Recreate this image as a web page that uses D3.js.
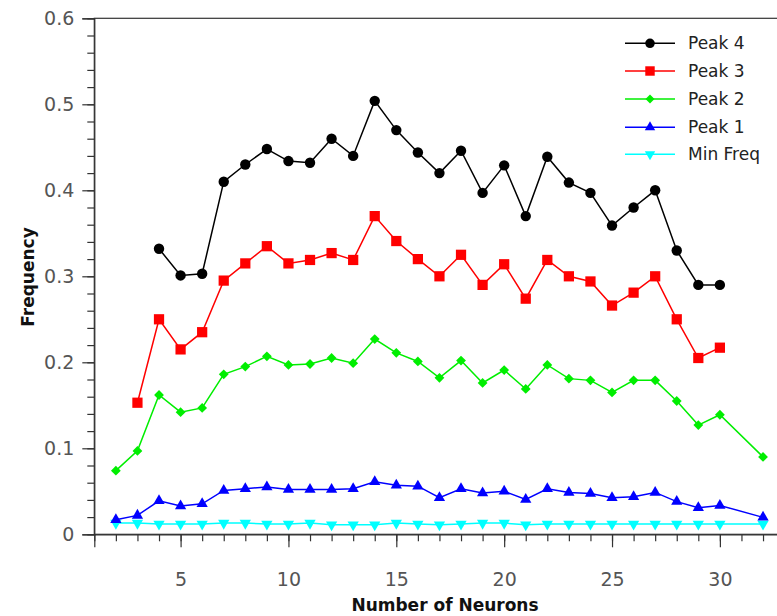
<!DOCTYPE html>
<html><head><meta charset="utf-8">
<script src="https://cdn.jsdelivr.net/npm/d3@7"></script>
<style>body{margin:0;background:#fff}svg{display:block}</style>
</head><body>
<script>
const xTicks = [5, 10, 15, 20, 25, 30];
const yTicks = [0, 0.1, 0.2, 0.3, 0.4, 0.5, 0.6];
const yTickLabels = ["0", "0.1", "0.2", "0.3", "0.4", "0.5", "0.6"];

const xPeak4 = [4,5,6,7,8,9,10,11,12,13,14,15,16,17,18,19,20,21,22,23,24,25,26,27,28,29,30];
const peak4 = [0.332,0.301,0.303,0.41,0.43,0.448,0.434,0.432,0.46,0.44,0.504,0.47,0.444,0.42,0.446,0.397,0.429,0.37,0.439,0.409,0.397,0.359,0.38,0.40,0.33,0.29,0.29];

const xPeak3 = [3,4,5,6,7,8,9,10,11,12,13,14,15,16,17,18,19,20,21,22,23,24,25,26,27,28,29,30];
const peak3 = [0.153,0.25,0.215,0.235,0.295,0.315,0.335,0.315,0.319,0.327,0.319,0.37,0.341,0.32,0.30,0.325,0.29,0.314,0.274,0.319,0.30,0.294,0.266,0.281,0.30,0.25,0.205,0.217];

const xLow = [2,3,4,5,6,7,8,9,10,11,12,13,14,15,16,17,18,19,20,21,22,23,24,25,26,27,28,29,30,32];
const peak2 = [0.074,0.097,0.162,0.142,0.147,0.186,0.195,0.207,0.197,0.198,0.205,0.199,0.227,0.211,0.201,0.182,0.202,0.176,0.191,0.169,0.197,0.181,0.179,0.165,0.179,0.179,0.155,0.127,0.139,0.09];
const peak1 = [0.017,0.022,0.039,0.033,0.0355,0.051,0.053,0.055,0.052,0.052,0.052,0.053,0.061,0.057,0.056,0.0425,0.053,0.048,0.050,0.0405,0.053,0.0487,0.0475,0.0425,0.0436,0.0487,0.038,0.031,0.0336,0.0197];
const minFreq = [0.013,0.013,0.012,0.012,0.012,0.013,0.013,0.012,0.012,0.013,0.011,0.011,0.011,0.013,0.012,0.011,0.012,0.013,0.013,0.011,0.012,0.012,0.012,0.012,0.012,0.012,0.012,0.012,0.012,0.012];

const seriesNames = ["Peak 4", "Peak 3", "Peak 2", "Peak 1", "Min Freq"];
const seriesColors = ["#000000", "#ff0000", "#00ee00", "#0000ff", "#00ffff"];

const W = 777, H = 616;
const margin = {left: 94.3, top: 18.3};
const plotW = 690.3, plotH = 516;

const svg = d3.select("body").append("svg").attr("width", W).attr("height", H);
const x = d3.scaleLinear().domain([1, 33]).range([margin.left, margin.left + plotW]);
const y = d3.scaleLinear().domain([0, 0.6]).range([margin.top + plotH, margin.top]);

const axisColor = "#333";
const font = "'DejaVu Sans', Verdana, sans-serif";

// frame (top and right)
svg.append("rect").attr("x", margin.left).attr("y", margin.top)
  .attr("width", plotW).attr("height", plotH)
  .attr("fill", "none").attr("stroke", axisColor).attr("stroke-width", 1.2);

// Y axis minor
const yMinor = d3.range(0, 0.6001, 0.02);
svg.append("g").attr("transform", `translate(${margin.left},0)`)
  .call(d3.axisLeft(y).tickValues(yMinor).tickSize(7).tickFormat(""))
  .call(g => { g.select(".domain").remove(); g.selectAll("line").attr("stroke", axisColor).attr("stroke-width", 1.2); });
// Y axis major
svg.append("g").attr("transform", `translate(${margin.left},0)`)
  .call(d3.axisLeft(y).tickValues(yTicks).tickSize(12).tickPadding(8).tickFormat((d, i) => yTickLabels[i]))
  .call(g => {
    g.select(".domain").attr("stroke", axisColor).attr("stroke-width", 1.2);
    g.selectAll("line").attr("stroke", axisColor).attr("stroke-width", 1.2);
    g.selectAll("text").attr("font-family", font).attr("font-size", 19).attr("fill", "#555");
  });

// X axis minor
const xMinor = d3.range(1, 33, 1);
svg.append("g").attr("transform", `translate(0,${margin.top + plotH})`)
  .call(d3.axisBottom(x).tickValues(xMinor).tickSize(7).tickFormat(""))
  .call(g => { g.select(".domain").remove(); g.selectAll("line").attr("stroke", axisColor).attr("stroke-width", 1.2); });
// X axis major
svg.append("g").attr("transform", `translate(0,${margin.top + plotH})`)
  .call(d3.axisBottom(x).tickValues(xTicks).tickSize(13).tickPadding(25).tickFormat(d3.format("d")))
  .call(g => {
    g.select(".domain").attr("stroke", axisColor).attr("stroke-width", 1.2);
    g.selectAll("line").attr("stroke", axisColor).attr("stroke-width", 1.2);
    g.selectAll("text").attr("font-family", font).attr("font-size", 19).attr("fill", "#555");
  });

// axis titles
svg.append("text").attr("x", 445).attr("y", 611).attr("text-anchor", "middle")
  .attr("font-family", font).attr("font-weight", "bold").attr("font-size", 17).attr("fill", "#111")
  .text("Number of Neurons");
svg.append("text").attr("transform", "translate(34,277) rotate(-90)").attr("text-anchor", "middle")
  .attr("font-family", font).attr("font-weight", "bold").attr("font-size", 17).attr("fill", "#111")
  .text("Frequency");

// marker generators
function marker(kind, scale) {
  const s = scale || 1;
  switch (kind) {
    case 0: return {path: d3.symbol().type(d3.symbolCircle).size(85 * s)(), rot: 0};
    case 1: return {path: d3.symbol().type(d3.symbolSquare).size(105 * s)(), rot: 0};
    case 2: return {path: d3.symbol().type(d3.symbolSquare).size(48 * s)(), rot: 45};
    case 3: return {path: d3.symbol().type(d3.symbolTriangle).size(55 * s)(), rot: 0};
    case 4: return {path: d3.symbol().type(d3.symbolTriangle).size(55 * s)(), rot: 180};
  }
}

const seriesData = [
  xPeak4.map((d, i) => [d, peak4[i]]),
  xPeak3.map((d, i) => [d, peak3[i]]),
  xLow.map((d, i) => [d, peak2[i]]),
  xLow.map((d, i) => [d, peak1[i]]),
  xLow.map((d, i) => [d, minFreq[i]])
];

const line = d3.line().x(d => x(d[0])).y(d => y(d[1]));

// draw from bottom (Min Freq) to top (Peak 4)
for (let k = seriesData.length - 1; k >= 0; k--) {
  const g = svg.append("g");
  g.append("path").datum(seriesData[k]).attr("d", line)
    .attr("fill", "none").attr("stroke", seriesColors[k]).attr("stroke-width", 1.5);
  const m = marker(k);
  g.selectAll("path.m").data(seriesData[k]).join("path").attr("class", "m")
    .attr("d", m.path)
    .attr("transform", d => `translate(${x(d[0])},${y(d[1])}) rotate(${m.rot})`)
    .attr("fill", seriesColors[k]);
}

// legend
const leg = svg.append("g");
const legY = [43.3, 71, 99, 127.3, 154.3];
seriesNames.forEach((name, k) => {
  const gy = legY[k];
  leg.append("line").attr("x1", 625).attr("x2", 675).attr("y1", gy).attr("y2", gy)
    .attr("stroke", seriesColors[k]).attr("stroke-width", 1.5);
  const m = marker(k, 0.85);
  leg.append("path").attr("d", m.path).attr("transform", `translate(650,${gy}) rotate(${m.rot})`)
    .attr("fill", seriesColors[k]);
  leg.append("text").attr("x", 688).attr("y", gy).attr("dy", "0.36em")
    .attr("font-family", font).attr("font-size", 17).attr("fill", "#222").text(name);
});
</script>
</body></html>
